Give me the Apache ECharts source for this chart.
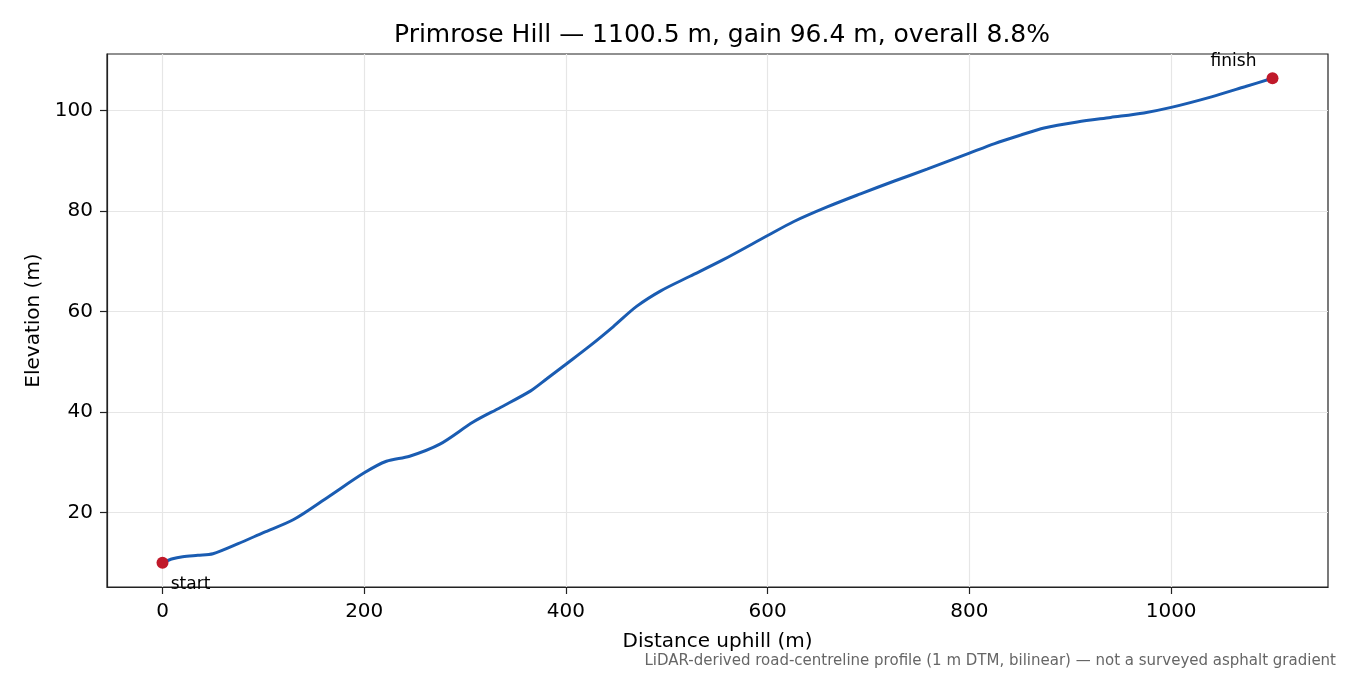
<!DOCTYPE html>
<html><head><meta charset="utf-8">
<script src="https://cdn.jsdelivr.net/npm/echarts@6/dist/echarts.min.js"></script>
<style>html,body{margin:0;padding:0;background:#fff}#c{width:1350px;height:675px}</style>
</head><body><div id="c"></div>
<script>
const distance = [0, 10, 20, 35, 50, 75, 100, 130, 165, 200, 222, 245, 275, 308, 335, 365, 381, 400, 424, 447, 470, 494, 523, 556, 600, 626, 659, 692, 725, 758, 800, 825, 851, 874, 907, 940, 973, 1000, 1040, 1073, 1100.5];
const elevation = [10.0, 10.8, 11.2, 11.5, 11.8, 13.8, 16.0, 18.6, 23.2, 27.9, 30.2, 31.2, 33.6, 38.0, 40.9, 44.2, 46.6, 49.5, 53.2, 57.0, 61.0, 64.1, 67.0, 70.3, 75.1, 77.9, 80.8, 83.4, 85.9, 88.3, 91.5, 93.4, 95.1, 96.5, 97.7, 98.6, 99.5, 100.6, 102.7, 104.7, 106.4];
const xTicks = [0, 200, 400, 600, 800, 1000];
const yTicks = [20, 40, 60, 80, 100];
const titleText = 'Primrose Hill — 1100.5 m, gain 96.4 m, overall 8.8%';
const noteText = 'LiDAR-derived road-centreline profile (1 m DTM, bilinear) — not a surveyed asphalt gradient';

const font = 'DejaVu Sans';
const n = distance.length;
const xSpan = distance[n-1] - distance[0];
const yMin = Math.min(...elevation), yMax = Math.max(...elevation);
const ySpan = yMax - yMin;
const frame = '#222';

const chart = echarts.init(document.getElementById('c'), null, {renderer: 'canvas'});
chart.setOption({
  animation: false,
  backgroundColor: '#fff',
  title: {text: titleText, left: 717, top: 18, textAlign: 'center',
    textStyle: {fontFamily: font, fontSize: 25, fontWeight: 'normal', color: '#000'}},
  grid: {left: 107, right: 22, top: 54, bottom: 88, show: true, borderColor: frame, borderWidth: 1.2, backgroundColor: 'transparent'},
  xAxis: {type: 'value', min: distance[0] - 0.05*xSpan, max: distance[n-1] + 0.05*xSpan,
    name: 'Distance uphill (m)', nameLocation: 'middle', nameGap: 45,
    nameTextStyle: {fontFamily: font, fontSize: 20, color: '#000'},
    axisLine: {show: true, onZero: false, lineStyle: {color: frame, width: 1.2}},
    axisTick: {show: true, inside: false, length: 7, customValues: xTicks, lineStyle: {color: frame, width: 1.2}},
    axisLabel: {customValues: xTicks, formatter: v => String(v), fontFamily: font, fontSize: 20, color: '#000', margin: 15},
    splitLine: {show: true, lineStyle: {color: '#e6e6e6', width: 1.2}}},
  yAxis: {type: 'value', min: yMin - 0.05*ySpan, max: yMax + 0.05*ySpan,
    name: 'Elevation (m)', nameLocation: 'middle', nameGap: 61, nameRotate: 90,
    nameTextStyle: {fontFamily: font, fontSize: 20, color: '#000'},
    axisLine: {show: true, onZero: false, lineStyle: {color: frame, width: 1.2}},
    axisTick: {show: true, inside: false, length: 7, customValues: yTicks, lineStyle: {color: frame, width: 1.2}},
    axisLabel: {customValues: yTicks, formatter: v => String(v), fontFamily: font, fontSize: 20, color: '#000', margin: 14},
    splitLine: {show: true, lineStyle: {color: '#e6e6e6', width: 1.2}}},
  series: [
    {type: 'line', data: distance.map((d, i) => [d, elevation[i]]), showSymbol: false, smooth: 0.3,
     lineStyle: {color: '#1a5cb2', width: 3}, z: 3},
    {type: 'scatter', symbolSize: 12, itemStyle: {color: '#c0192a', opacity: 1}, z: 4,
     data: [
       {value: [distance[0], elevation[0]], label: {show: true, formatter: 'start', position: 'inside', offset: [28, 22]}},
       {value: [distance[n-1], elevation[n-1]], label: {show: true, formatter: 'finish', position: 'inside', offset: [-39, -17]}}
     ],
     label: {fontFamily: font, fontSize: 17, color: '#000'}}
  ],
  graphic: [{type: 'text', right: 14, top: 654,
    style: {text: noteText, fontFamily: font, fontSize: 15, fill: '#666', textAlign: 'right'}}]
});
</script></body></html>
